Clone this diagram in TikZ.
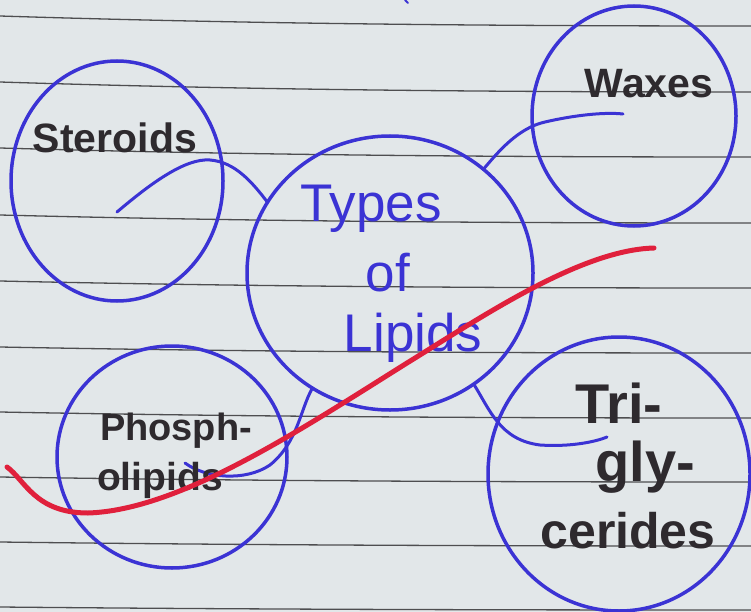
\documentclass[tikz,border=0pt]{standalone}
\usepackage{fontspec}
\setmainfont{Liberation Sans}
\usetikzlibrary{shapes.geometric}
\definecolor{paper}{HTML}{E2E7E9}
\definecolor{rulegray}{HTML}{4E4E50}
\definecolor{penblue}{HTML}{3B33D4}
\definecolor{penred}{HTML}{E0203C}
\definecolor{inkblack}{HTML}{2E2A2E}
\newcommand{\mysize}[1]{\fontsize{#1}{#1}\selectfont}
\tikzset{
  ring/.style={draw=penblue, line width=3.5pt, ellipse, inner sep=0pt, outer sep=0pt},
  link/.style={draw=penblue, line width=3pt, line cap=round},
  hand/.style={text=inkblack, inner sep=0pt, anchor=base},
  titletext/.style={text=penblue, inner sep=0pt, anchor=base},
  ruling/.style={draw=rulegray, line width=1.3pt},
  redline/.style={draw=penred, line width=5pt, line cap=round}
}
\begin{document}
\begin{tikzpicture}[x=1pt,y=-1pt]
\fill[paper] (0,0) rectangle (751,612);
\useasboundingbox (0,0) rectangle (751,612);
% ruled lines
\foreach \y/\d in {16/10,82/10,148/9,215/8,281/7,347/6,412/6,477/5,542/4,607/3}{
  \draw[ruling] (0,\y) .. controls (250,\y+0.8*\d) and (500,\y+\d) .. (751,\y+\d);
}
% circles
\node[ring, minimum width=212, minimum height=240] (steroids) at (117,181) {};
\node[ring, minimum width=204, minimum height=220] (waxes) at (634,116) {};
\node[ring, minimum width=286, minimum height=274] (lipids) at (390,273) {};
\node[ring, minimum width=230, minimum height=222] (phospho) at (172,457) {};
\node[ring, minimum width=262, minimum height=274] (trig) at (619,474) {};
% free ends of connectors
\coordinate (sEnd) at (117,212);
\coordinate (wEnd) at (623,114);
\coordinate (pEnd) at (185,463);
\coordinate (tEnd) at (607,437);
% connectors
\draw[link] (sEnd) .. controls (150,184) and (185,158) .. (210,160)
            .. controls (235,162) and (252,182) .. (lipids.150);
\draw[link] (lipids.48) .. controls (498,152) and (518,128) .. (545,122)
            .. controls (575,115) and (605,112) .. (wEnd);
\draw[link] (lipids.236) .. controls (300,410) and (298,442) .. (270,465)
            .. controls (245,482) and (205,478) .. (pEnd);
\draw[link] (lipids.307) .. controls (490,410) and (500,440) .. (540,445)
            .. controls (570,447) and (595,442) .. (tEnd);
% center text
\node[titletext, font=\mysize{53}] (t1) at (371,222) {Types};
\node[titletext, font=\mysize{53}] (t2) at (388,291) {of};
\node[titletext, font=\mysize{53}] (t3) at (413,351) {Lipids};
% outer labels
\node[hand, font=\bfseries\mysize{41}] (l1) at (115,153) {Steroids};
\node[hand, font=\bfseries\mysize{41}] (l2) at (649,98) {Waxes};
\node[hand, font=\bfseries\mysize{38}] (l3) at (176,440) {Phosph-};
\node[hand, font=\bfseries\mysize{39}] (l4) at (160,490) {olipids};
\node[hand, font=\bfseries\mysize{56}] (l5) at (619,423) {Tri-};
\node[hand, font=\bfseries\mysize{56}] (l6) at (645,481) {gly-};
\node[hand, font=\bfseries\mysize{50}] (l7) at (628,548) {cerides};
% small mark at top
\draw[link, line width=2pt] (405,0) -- (408,3);
% red stroke
\draw[redline] (7,467) .. controls (25,480) and (35,513) .. (88,513)
  .. controls (180,510) and (300,430) .. (407,363)
  .. controls (480,318) and (580,250) .. (654,248);
\end{tikzpicture}
\end{document}
